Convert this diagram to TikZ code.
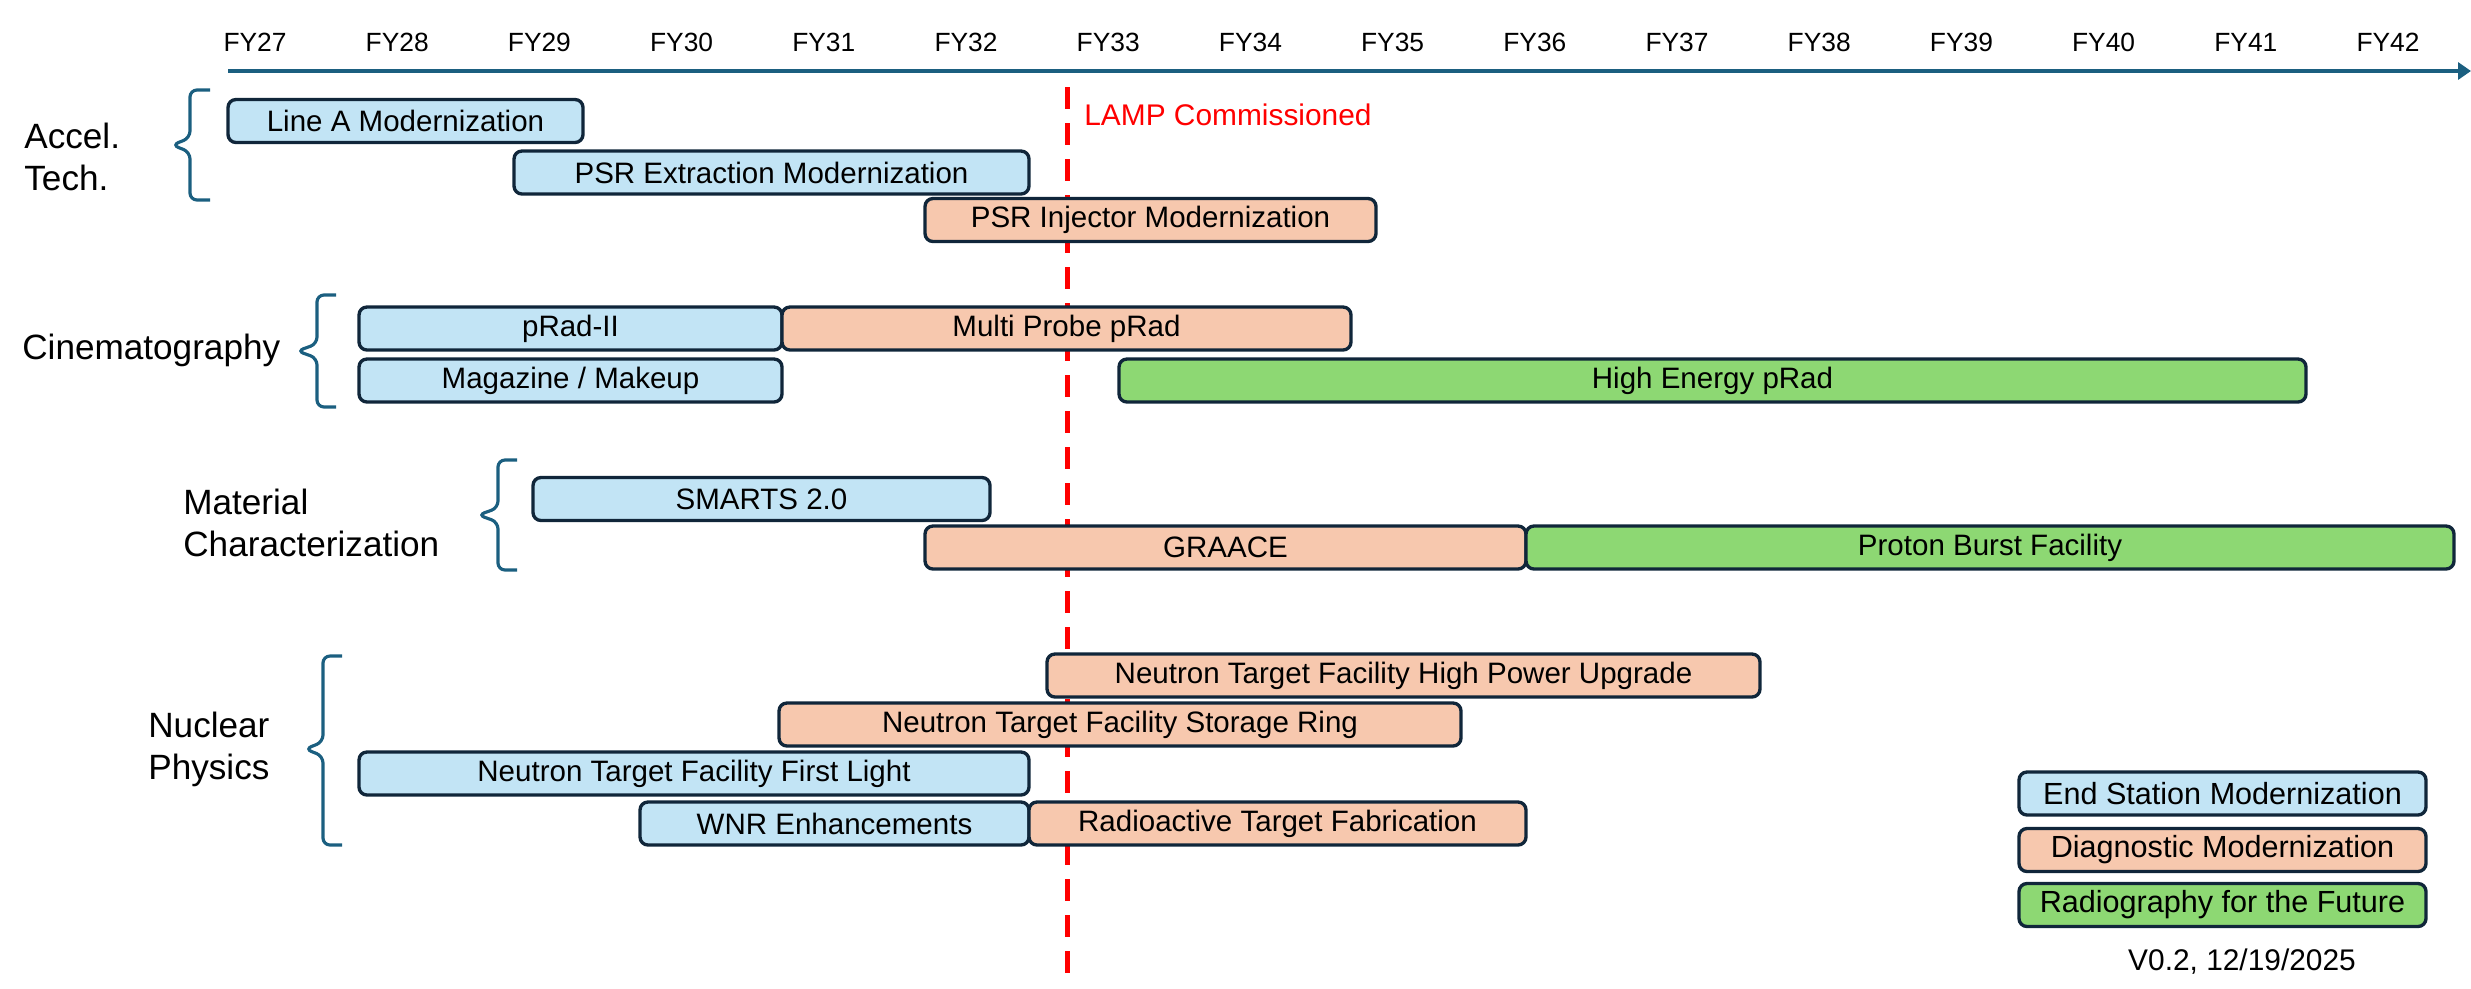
\documentclass[tikz,border=0pt]{standalone}
\usepackage{fontspec}
\setmainfont{Liberation Sans}
\usetikzlibrary{positioning,arrows.meta}

\definecolor{axisteal}{HTML}{1B5F80}
\definecolor{barline}{HTML}{10263A}
\definecolor{modblue}{HTML}{C2E4F5}
\definecolor{diagorange}{HTML}{F7C8AE}
\definecolor{futgreen}{HTML}{8DD873}

\begin{document}
\begin{tikzpicture}[x=0.2mm, y=-0.2mm,
    task/.style={rectangle, draw=barline, fill=#1, line width=1.9pt, rounded corners=1.6mm, minimum height=8.6mm, inner sep=0pt, outer sep=0pt, font=\fontsize{16.8}{19}\selectfont},
    legkey/.style={task=#1, minimum width=81.4mm, font=\fontsize{17.4}{20}\selectfont},
    yearlbl/.style={font=\fontsize{15}{18}\selectfont},
    grouplbl/.style={anchor=west, align=left, inner sep=0pt, font=\fontsize{20}{24}\selectfont},
    grpbrace/.style={draw=axisteal, line width=1.8pt, rounded corners=1.4mm},
    axisline/.style={draw=axisteal, line width=2.8pt, -{Triangle[length=2.6mm, width=3.4mm]}},
    lampline/.style={draw=red, line width=1mm, dash pattern=on 4.4mm off 2.8mm}
]
\useasboundingbox (0,0) rectangle (2471,988);

% Timeline axis and years
\coordinate (axstart) at (228,71);
\coordinate (axend) at (2471,71);
\draw[axisline] (axstart) -- (axend);
\foreach \yr [count=\i from 0] in {27,...,42}
  \node[yearlbl] (fy\yr) at ({255+142.2*\i},42) {FY\yr};

% LAMP milestone
\coordinate (lamptop) at (1067,87);
\coordinate (lampbot) at (1067,974);
\draw[lampline] (lamptop) -- (lampbot);
\node[anchor=west, text=red, inner sep=0pt, font=\fontsize{17}{20}\selectfont] (lamp) at (1084,115) {LAMP Commissioned};

% Accelerator technology
\node[task=modblue, minimum width=71mm] (linea) at (405.5,121) {Line A Modernization};
\node[task=modblue, minimum width=103mm] (psrext) at (771.5,172.5) {PSR Extraction Modernization};
\node[task=diagorange, minimum width=90.2mm] (psrinj) at (1150.5,220) {PSR Injector Modernization};

% Cinematography
\node[task=modblue, minimum width=84.6mm] (pradii) at (570.5,328.5) {pRad-II};
\node[task=diagorange, minimum width=113.8mm, right=0pt of pradii] (multiprad) {Multi Probe pRad};
\node[task=modblue, minimum width=84.6mm] (magazine) at (570.5,380.5) {Magazine / Makeup};
\node[task=futgreen, minimum width=237.4mm] (hiprad) at (1712.5,380.5) {High Energy pRad};

% Material characterization
\node[task=modblue, minimum width=91.4mm] (smarts) at (761.5,499) {SMARTS 2.0};
\node[task=diagorange, minimum width=120.2mm] (graace) at (1225.5,547.5) {GRAACE};
\node[task=futgreen, minimum width=185.6mm, right=0pt of graace] (burst) {Proton Burst Facility};

% Nuclear physics
\node[task=diagorange, minimum width=142.6mm] (ntfhpu) at (1403.5,675.5) {Neutron Target Facility High Power Upgrade};
\node[task=diagorange, minimum width=136.4mm] (ntfring) at (1120,724.5) {Neutron Target Facility Storage Ring};
\node[task=modblue, minimum width=134mm] (ntflight) at (694,773.5) {Neutron Target Facility First Light};
\node[task=modblue, minimum width=77.8mm] (wnr) at (834.5,823.5) {WNR Enhancements};
\node[task=diagorange, minimum width=99.4mm, right=0pt of wnr] (rtf) {Radioactive Target Fabrication};

% Group labels and braces
\node[grouplbl] (accel) at (24,157) {Accel.\\Tech.};
\draw[grpbrace] (210,90) -- (190,90) -- (190,138) -- (172,145) -- (190,152) -- (190,200) -- (210,200);
\node[grouplbl] (cinema) at (22,350) {Cinematography};
\draw[grpbrace] (336,295) -- (317,295) -- (317,344) -- (297,351) -- (317,358) -- (317,407) -- (336,407);
\node[grouplbl] (material) at (183,523) {Material\\Characterization};
\draw[grpbrace] (517,460) -- (498,460) -- (498,508) -- (478,515) -- (498,522) -- (498,570) -- (517,570);
\node[grouplbl] (nuclear) at (148,749) {Nuclear\\Physics};
\draw[grpbrace] (342,656) -- (323,656) -- (323,742) -- (305,749) -- (323,756) -- (323,845) -- (342,845);

% Legend
\node[legkey=modblue] (keyend) at (2222.5,793.5) {End Station Modernization};
\node[legkey=diagorange] (keydiag) at (2222.5,850) {Diagnostic Modernization};
\node[legkey=futgreen] (keyfut) at (2222.5,905) {Radiography for the Future};
\node[font=\fontsize{17}{20}\selectfont] (version) at (2242,962) {V0.2, 12/19/2025};

\end{tikzpicture}
\end{document}
